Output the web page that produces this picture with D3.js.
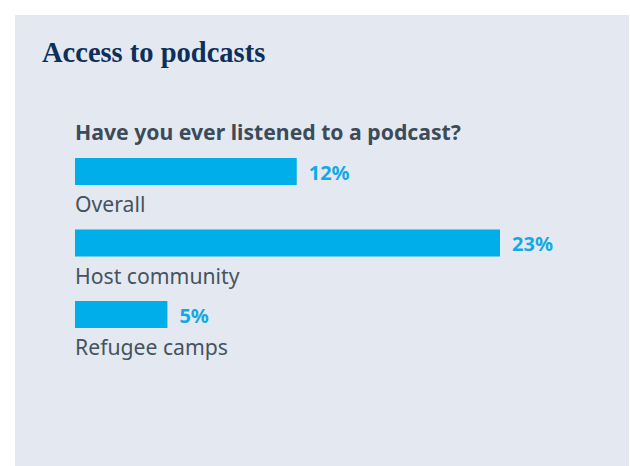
<!DOCTYPE html>
<html>
<head>
<meta charset="utf-8">
<script src="https://cdn.jsdelivr.net/npm/d3@7"></script>
<style>
  html, body { margin: 0; padding: 0; background: #ffffff; }
  svg { display: block; }
</style>
</head>
<body>
<svg id="chart" width="630" height="466"></svg>
<script>
// Survey answers: share of respondents who have ever listened to a podcast
const title = "Access to podcasts";
const question = "Have you ever listened to a podcast?";
const categories = ["Overall", "Host community", "Refugee camps"];
const values = [12, 23, 5];

const W = 630, H = 466;
const svg = d3.select("#chart");

// background card
svg.append("rect")
  .attr("x", 15).attr("y", 15)
  .attr("width", 614).attr("height", H - 15)
  .attr("fill", "#e4e9f1");

svg.append("text")
  .attr("x", 42).attr("y", 62)
  .attr("font-family", "'Liberation Serif', serif")
  .attr("font-weight", 700)
  .attr("font-size", 28.5)
  .attr("fill", "#0d2f5a")
  .text(title);

svg.append("text")
  .attr("x", 75).attr("y", 140)
  .attr("font-family", "'Noto Sans', 'Open Sans', sans-serif")
  .attr("font-weight", 700)
  .attr("font-size", 21.2)
  .attr("fill", "#3b4b59")
  .text(question);

const x = d3.scaleLinear()
  .domain([0, d3.max(values)])
  .range([0, 425]);

const y = d3.scaleBand()
  .domain(categories)
  .range([158, 158 + 71.5 * categories.length])
  .paddingInner(0)
  .paddingOuter(0);

const barH = 27;
const data = categories.map((c, i) => ({ c, v: values[i] }));

const rows = svg.append("g").attr("transform", "translate(75,0)")
  .selectAll("g.row").data(data).join("g").attr("class", "row");

rows.append("rect")
  .attr("x", x(0))
  .attr("y", d => y(d.c))
  .attr("width", d => x(d.v))
  .attr("height", barH)
  .attr("fill", "#00aeea");

rows.append("text")
  .attr("x", d => x(d.v) + 12)
  .attr("y", d => y(d.c) + barH / 2 + 8)
  .attr("font-family", "'Noto Sans', 'Open Sans', sans-serif")
  .attr("font-weight", 700)
  .attr("font-size", 20)
  .attr("fill", "#14a9e4")
  .text(d => d.v + "%");

rows.append("text")
  .attr("x", 0)
  .attr("y", d => y(d.c) + barH + 27)
  .attr("font-family", "'Noto Sans', 'Open Sans', sans-serif")
  .attr("font-size", 21.2)
  .attr("fill", "#45535f")
  .text(d => d.c);
</script>
</body>
</html>
